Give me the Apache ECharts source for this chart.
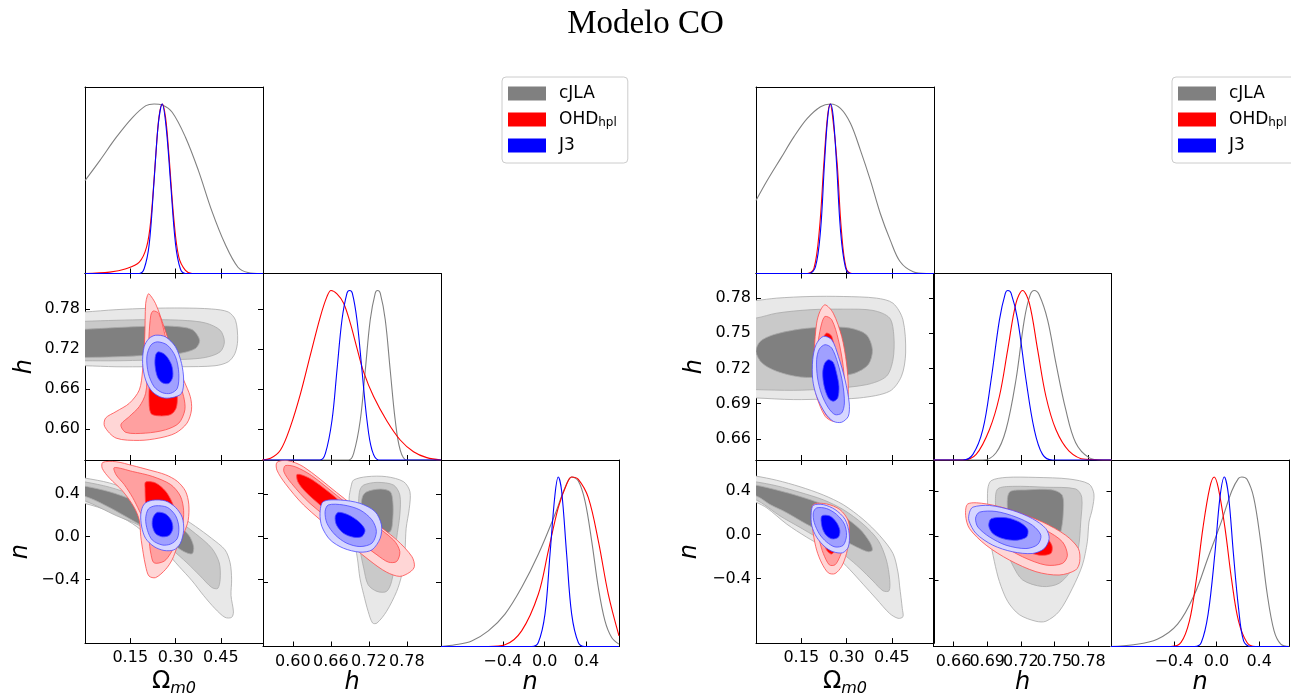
<!DOCTYPE html>
<html>
<head>
<meta charset="utf-8">
<script src="https://cdn.jsdelivr.net/npm/echarts@6/dist/echarts.min.js"></script>
<style>html,body{margin:0;padding:0;background:#fff}#chart{width:1291px;height:698px}</style>
</head>
<body>
<div id="chart"></div>
<script>
// ---------------- tick values ----------------
const OM_TICKS = [0.15, 0.30, 0.45];
const H_TICKS_L = [0.60, 0.66, 0.72, 0.78];
const H_TICKS_R = [0.66, 0.69, 0.72, 0.75, 0.78];
const N_TICKS = [-0.4, 0.0, 0.4];
const SETS = ['cJLA', 'OHD_hpl', 'J3'];

// ---------------- LEFT corner: 2D contours [outer light, mid, dark] ----------------
const L_OMH_cJLA = [
  [[-0.061,0.7745],[0,0.776],[0.103,0.7795],[0.212,0.7815],[0.322,0.782],[0.420,0.7805],[0.475,0.776],[0.499,0.7635],[0.506,0.7335],[0.497,0.7135],[0.475,0.701],[0.431,0.695],[0.322,0.6935],[0.212,0.6935],[0.103,0.6935],[0,0.695],[-0.061,0.695]],
  [[-0.061,0.761],[0,0.762],[0.103,0.7635],[0.212,0.7645],[0.322,0.7635],[0.399,0.7595],[0.448,0.7485],[0.462,0.731],[0.448,0.716],[0.399,0.7075],[0.322,0.7045],[0.212,0.7035],[0.103,0.7025],[0,0.7025],[-0.061,0.7025]],
  [[-0.061,0.7495],[0,0.75],[0.103,0.7525],[0.212,0.7545],[0.289,0.7545],[0.355,0.7495],[0.380,0.7335],[0.366,0.721],[0.311,0.7135],[0.212,0.711],[0.103,0.7085],[0,0.7075],[-0.061,0.7075]]
];
const L_OMH_OHD = [
  [[0.212,0.8035],[0.234,0.7885],[0.262,0.7535],[0.295,0.7085],[0.327,0.6735],[0.349,0.6485],[0.353,0.6285],[0.338,0.6085],[0.300,0.5935],[0.245,0.586],[0.180,0.5825],[0.103,0.586],[0.065,0.6035],[0.068,0.616],[0.103,0.626],[0.147,0.6385],[0.180,0.6585],[0.191,0.6885],[0.198,0.7385],[0.201,0.7885],[0.207,0.801]],
  [[0.226,0.7775],[0.245,0.7735],[0.267,0.7385],[0.300,0.6885],[0.327,0.6485],[0.331,0.6285],[0.311,0.6085],[0.267,0.5985],[0.201,0.5935],[0.136,0.5945],[0.119,0.606],[0.147,0.6185],[0.180,0.6335],[0.201,0.6535],[0.207,0.6885],[0.212,0.7385],[0.218,0.771]],
  [[0.229,0.7135],[0.267,0.7035],[0.295,0.6785],[0.306,0.6485],[0.302,0.631],[0.284,0.6215],[0.245,0.6195],[0.218,0.6235],[0.212,0.6485],[0.215,0.6785],[0.218,0.7035]]
];
const L_OMH_J3 = [
  [[0.234,0.741],[0.267,0.7385],[0.300,0.7235],[0.320,0.6985],[0.327,0.6735],[0.320,0.6535],[0.289,0.647],[0.256,0.647],[0.223,0.656],[0.201,0.6735],[0.191,0.6985],[0.196,0.7235],[0.212,0.736]],
  [[0.240,0.731],[0.273,0.726],[0.300,0.7085],[0.311,0.6835],[0.306,0.661],[0.284,0.6535],[0.256,0.6545],[0.229,0.6635],[0.210,0.6835],[0.205,0.7085],[0.218,0.726]],
  [[0.243,0.716],[0.267,0.711],[0.287,0.696],[0.291,0.6785],[0.278,0.6685],[0.256,0.6695],[0.240,0.6785],[0.232,0.696],[0.234,0.711]]
];
const L_OMN_cJLA = [
  [[-0.061,0.567],[0,0.542],[0.081,0.497],[0.158,0.421],[0.234,0.321],[0.300,0.215],[0.366,0.094],[0.420,-0.018],[0.464,-0.124],[0.481,-0.245],[0.486,-0.397],[0.484,-0.548],[0.492,-0.700],[0.486,-0.751],[0.464,-0.751],[0.431,-0.670],[0.393,-0.548],[0.355,-0.412],[0.311,-0.276],[0.267,-0.139],[0.212,-0.003],[0.158,0.118],[0.081,0.233],[0,0.306],[-0.061,0.330]],
  [[-0.061,0.527],[0,0.506],[0.081,0.458],[0.158,0.385],[0.234,0.276],[0.300,0.164],[0.366,0.027],[0.420,-0.109],[0.445,-0.245],[0.448,-0.397],[0.440,-0.482],[0.420,-0.473],[0.382,-0.367],[0.338,-0.245],[0.289,-0.124],[0.234,-0.003],[0.180,0.103],[0.103,0.194],[0,0.330],[-0.061,0.361]],
  [[-0.061,0.488],[0,0.467],[0.081,0.415],[0.158,0.339],[0.234,0.239],[0.300,0.124],[0.344,0.012],[0.360,-0.094],[0.355,-0.161],[0.327,-0.139],[0.289,-0.070],[0.234,0.027],[0.158,0.149],[0.081,0.270],[0,0.373],[-0.061,0.397]]
];
const L_OMN_OHD = [
  [[0.059,0.688],[0.103,0.694],[0.158,0.658],[0.212,0.618],[0.267,0.573],[0.306,0.512],[0.333,0.421],[0.344,0.300],[0.342,0.149],[0.327,0.027],[0.306,-0.094],[0.289,-0.215],[0.267,-0.306],[0.234,-0.382],[0.212,-0.367],[0.201,-0.276],[0.193,-0.155],[0.185,-0.003],[0.180,0.149],[0.163,0.270],[0.125,0.421],[0.081,0.542],[0.057,0.633]],
  [[0.097,0.639],[0.158,0.603],[0.223,0.558],[0.284,0.482],[0.316,0.376],[0.327,0.239],[0.322,0.088],[0.300,-0.064],[0.284,-0.155],[0.262,-0.230],[0.229,-0.245],[0.218,-0.155],[0.212,-0.033],[0.201,0.118],[0.180,0.239],[0.158,0.361],[0.130,0.482],[0.103,0.573]],
  [[0.201,0.506],[0.234,0.497],[0.267,0.421],[0.289,0.315],[0.300,0.209],[0.298,0.088],[0.278,-0.003],[0.245,-0.018],[0.218,0.027],[0.207,0.149],[0.201,0.300],[0.199,0.452]]
];
const L_OMN_J3 = [
  [[0.223,0.336],[0.267,0.330],[0.300,0.270],[0.322,0.179],[0.327,0.058],[0.316,-0.064],[0.295,-0.124],[0.262,-0.130],[0.229,-0.094],[0.201,-0.018],[0.188,0.088],[0.185,0.209],[0.196,0.300]],
  [[0.234,0.285],[0.273,0.270],[0.300,0.194],[0.311,0.088],[0.306,-0.018],[0.284,-0.070],[0.256,-0.079],[0.223,-0.033],[0.207,0.058],[0.201,0.164],[0.210,0.255]],
  [[0.240,0.224],[0.267,0.209],[0.286,0.149],[0.291,0.073],[0.280,0.012],[0.256,-0.003],[0.234,0.027],[0.223,0.103],[0.226,0.179]]
];
const L_HN_cJLA = [
  [[0.696,0.527],[0.717,0.558],[0.748,0.558],[0.775,0.512],[0.785,0.421],[0.784,0.270],[0.779,0.088],[0.777,-0.124],[0.772,-0.336],[0.764,-0.488],[0.748,-0.670],[0.733,-0.776],[0.726,-0.776],[0.719,-0.670],[0.712,-0.518],[0.706,-0.367],[0.702,-0.185],[0.696,-0.003],[0.691,0.149],[0.689,0.361],[0.692,0.467]],
  [[0.712,0.482],[0.733,0.506],[0.759,0.482],[0.769,0.391],[0.769,0.209],[0.764,-0.003],[0.762,-0.185],[0.756,-0.397],[0.748,-0.488],[0.733,-0.488],[0.719,-0.427],[0.712,-0.276],[0.706,-0.094],[0.704,0.118],[0.704,0.330],[0.706,0.436]],
  [[0.717,0.421],[0.738,0.445],[0.754,0.421],[0.758,0.330],[0.758,0.179],[0.754,0.058],[0.738,0.042],[0.722,0.058],[0.712,0.149],[0.708,0.270],[0.710,0.376]]
];
const L_HN_OHD = [
  [[0.575,0.688],[0.591,0.706],[0.617,0.648],[0.669,0.415],[0.722,0.173],[0.764,-0.018],[0.788,-0.170],[0.792,-0.261],[0.785,-0.312],[0.769,-0.351],[0.748,-0.312],[0.722,-0.209],[0.669,0.042],[0.617,0.300],[0.588,0.497],[0.575,0.618]],
  [[0.588,0.658],[0.604,0.648],[0.630,0.567],[0.675,0.361],[0.722,0.149],[0.759,-0.018],[0.769,-0.124],[0.764,-0.215],[0.751,-0.221],[0.733,-0.155],[0.680,0.073],[0.627,0.315],[0.598,0.497],[0.586,0.603]],
  [[0.607,0.579],[0.625,0.548],[0.648,0.458],[0.675,0.330],[0.696,0.194],[0.698,0.103],[0.688,0.088],[0.669,0.164],[0.643,0.300],[0.620,0.421],[0.608,0.512]]
];
const L_HN_J3 = [
  [[0.648,0.330],[0.675,0.345],[0.706,0.315],[0.730,0.239],[0.740,0.118],[0.738,-0.003],[0.725,-0.109],[0.706,-0.130],[0.680,-0.094],[0.659,-0.018],[0.646,0.103],[0.643,0.224]],
  [[0.656,0.300],[0.680,0.300],[0.706,0.255],[0.725,0.164],[0.732,0.058],[0.725,-0.048],[0.706,-0.079],[0.685,-0.048],[0.667,0.027],[0.654,0.133],[0.651,0.239]],
  [[0.672,0.233],[0.688,0.209],[0.704,0.149],[0.714,0.073],[0.709,0.012],[0.696,0.006],[0.680,0.042],[0.669,0.118],[0.667,0.194]]
];

// ---------------- LEFT corner: 1D marginals (normalised to peak) ----------------
const L_OM_cJLA = [[0,0.548],[0.049,0.666],[0.104,0.804],[0.158,0.921],[0.202,0.990],[0.229,1],[0.256,0.994],[0.289,0.951],[0.333,0.804],[0.376,0.607],[0.420,0.371],[0.464,0.175],[0.507,0.037],[0.540,0.006],[0.584,0],[0.59,0]];
const L_OM_OHD = [[0,0],[0.082,0.008],[0.136,0.028],[0.180,0.067],[0.204,0.155],[0.218,0.312],[0.235,0.705],[0.245,0.921],[0.256,1],[0.267,0.921],[0.278,0.705],[0.295,0.312],[0.311,0.096],[0.333,0.018],[0.355,0],[0.59,0]];
const L_OM_J3 = [[0,0],[0.180,0],[0.196,0.028],[0.213,0.175],[0.229,0.548],[0.243,0.882],[0.256,1],[0.269,0.862],[0.284,0.528],[0.300,0.175],[0.316,0.028],[0.333,0],[0.59,0]];
const L_H_cJLA = [[0.553,0],[0.6882,0],[0.6961,0.039],[0.7066,0.236],[0.7145,0.531],[0.7223,0.827],[0.7302,0.984],[0.7339,1],[0.7381,0.984],[0.746,0.827],[0.7538,0.531],[0.7617,0.236],[0.7696,0.059],[0.780,0],[0.834,0]];
const L_H_OHD = [[0.549,0],[0.5648,0.010],[0.5806,0.059],[0.5963,0.197],[0.6121,0.390],[0.6278,0.620],[0.6436,0.846],[0.6541,0.965],[0.6604,1],[0.6698,0.980],[0.6803,0.925],[0.6908,0.807],[0.7013,0.660],[0.7118,0.520],[0.7276,0.374],[0.7486,0.230],[0.7696,0.118],[0.7906,0.049],[0.8116,0.014],[0.834,0]];
const L_H_J3 = [[0.553,0],[0.6431,0],[0.6515,0.039],[0.662,0.236],[0.6698,0.531],[0.6777,0.827],[0.6856,0.984],[0.6898,1],[0.694,0.984],[0.7013,0.827],[0.7092,0.531],[0.7171,0.236],[0.725,0.059],[0.7355,0],[0.834,0]];
const L_N_cJLA = [[-0.99,0],[-0.984,0.001],[-0.856,0.010],[-0.697,0.033],[-0.538,0.092],[-0.379,0.191],[-0.220,0.348],[-0.0605,0.544],[0.099,0.780],[0.194,0.937],[0.258,1],[0.3215,0.976],[0.385,0.859],[0.449,0.623],[0.5125,0.348],[0.576,0.151],[0.640,0.053],[0.710,0.014]];
const L_N_OHD = [[-0.99,0],[-0.538,0],[-0.379,0.010],[-0.220,0.092],[-0.0605,0.308],[0.035,0.564],[0.130,0.819],[0.210,0.957],[0.258,1],[0.3215,0.986],[0.417,0.878],[0.5125,0.623],[0.608,0.308],[0.710,0.063]];
const L_N_J3 = [[-0.99,0],[-0.124,0],[-0.0605,0.024],[0.003,0.191],[0.051,0.544],[0.099,0.898],[0.1305,1],[0.162,0.917],[0.210,0.544],[0.258,0.191],[0.3215,0.024],[0.385,0],[0.71,0]];

// ---------------- RIGHT corner: 2D contours ----------------
const R_OMH_cJLA = [
  [[-0.063,0.7772],[0,0.778],[0.069,0.780],[0.179,0.7814],[0.289,0.7814],[0.399,0.780],[0.454,0.7757],[0.487,0.7616],[0.496,0.7332],[0.482,0.7133],[0.443,0.7006],[0.344,0.6949],[0.234,0.694],[0.124,0.6935],[0,0.6949],[-0.063,0.6955]],
  [[-0.063,0.7621],[0,0.763],[0.069,0.7672],[0.179,0.7701],[0.289,0.7706],[0.388,0.7695],[0.443,0.763],[0.457,0.7474],[0.454,0.7275],[0.432,0.7133],[0.366,0.7062],[0.234,0.7026],[0.124,0.7014],[0,0.702],[-0.063,0.7026]],
  [[0,0.7346],[0.014,0.7431],[0.058,0.7488],[0.146,0.7536],[0.234,0.7553],[0.311,0.7545],[0.366,0.7488],[0.386,0.736],[0.372,0.7233],[0.322,0.7156],[0.234,0.7128],[0.146,0.7128],[0.069,0.7176],[0.020,0.7247]]
];
const R_OMH_OHD = [
  [[0.229,0.7743],[0.256,0.7672],[0.284,0.7474],[0.300,0.7247],[0.306,0.702],[0.300,0.685],[0.284,0.6764],[0.256,0.675],[0.229,0.6793],[0.201,0.6963],[0.190,0.7133],[0.193,0.736],[0.201,0.7587],[0.212,0.7687]],
  [[0.229,0.7644],[0.251,0.7616],[0.273,0.7445],[0.289,0.7218],[0.293,0.702],[0.284,0.685],[0.262,0.677],[0.240,0.6779],[0.218,0.6878],[0.201,0.7048],[0.199,0.7247],[0.207,0.7445],[0.218,0.7587]],
  [[0.234,0.7502],[0.251,0.7474],[0.262,0.7332],[0.273,0.7133],[0.273,0.6991],[0.262,0.6921],[0.240,0.6926],[0.223,0.702],[0.216,0.719],[0.218,0.736],[0.223,0.746]]
];
const R_OMH_J3 = [
  [[0.223,0.7474],[0.251,0.7445],[0.273,0.7304],[0.295,0.7105],[0.309,0.6906],[0.306,0.6793],[0.284,0.6742],[0.256,0.675],[0.229,0.6821],[0.201,0.6963],[0.188,0.7105],[0.188,0.7275],[0.199,0.7403]],
  [[0.229,0.7403],[0.251,0.7374],[0.271,0.7247],[0.287,0.7077],[0.293,0.6906],[0.284,0.6821],[0.262,0.6807],[0.240,0.6864],[0.218,0.6977],[0.204,0.7119],[0.201,0.7275],[0.210,0.7366]],
  [[0.240,0.7275],[0.256,0.7252],[0.267,0.7162],[0.275,0.7048],[0.271,0.6949],[0.256,0.6921],[0.240,0.6949],[0.226,0.7048],[0.221,0.7162],[0.227,0.7241]]
];
const R_OMN_cJLA = [
  [[-0.063,0.554],[0,0.533],[0.069,0.495],[0.146,0.436],[0.223,0.361],[0.289,0.273],[0.355,0.139],[0.410,-0.009],[0.454,-0.172],[0.471,-0.350],[0.476,-0.468],[0.485,-0.676],[0.487,-0.750],[0.471,-0.764],[0.443,-0.720],[0.399,-0.587],[0.355,-0.453],[0.311,-0.320],[0.267,-0.201],[0.223,-0.113],[0.168,-0.024],[0.102,0.095],[0.036,0.243],[0,0.293],[-0.063,0.332]],
  [[-0.063,0.495],[0,0.480],[0.069,0.444],[0.146,0.385],[0.223,0.317],[0.289,0.228],[0.355,0.095],[0.405,-0.053],[0.432,-0.231],[0.443,-0.409],[0.441,-0.513],[0.421,-0.513],[0.388,-0.424],[0.344,-0.305],[0.300,-0.201],[0.256,-0.113],[0.201,-0.024],[0.146,0.065],[0.080,0.169],[0,0.317],[-0.063,0.347]],
  [[-0.063,0.465],[0,0.450],[0.069,0.406],[0.146,0.347],[0.223,0.273],[0.289,0.169],[0.344,0.050],[0.377,-0.068],[0.386,-0.142],[0.372,-0.157],[0.333,-0.113],[0.289,-0.053],[0.234,0.006],[0.168,0.095],[0.102,0.199],[0.047,0.273],[0,0.353],[-0.063,0.376]]
];
const R_OMN_OHD = [
  [[0.190,0.273],[0.234,0.279],[0.278,0.228],[0.306,0.124],[0.309,-0.024],[0.300,-0.172],[0.284,-0.290],[0.262,-0.356],[0.240,-0.350],[0.218,-0.261],[0.201,-0.142],[0.190,0.006],[0.185,0.154]],
  [[0.201,0.228],[0.240,0.228],[0.273,0.169],[0.292,0.065],[0.292,-0.083],[0.278,-0.201],[0.262,-0.276],[0.243,-0.276],[0.223,-0.172],[0.210,-0.053],[0.199,0.080],[0.196,0.169]],
  [[0.234,0.124],[0.262,0.095],[0.273,0.006],[0.267,-0.113],[0.251,-0.178],[0.234,-0.142],[0.225,-0.053],[0.227,0.050]]
];
const R_OMN_J3 = [
  [[0.190,0.267],[0.223,0.273],[0.262,0.228],[0.295,0.139],[0.309,0.006],[0.306,-0.113],[0.287,-0.166],[0.256,-0.157],[0.229,-0.113],[0.201,-0.024],[0.185,0.080],[0.183,0.199]],
  [[0.201,0.243],[0.234,0.237],[0.267,0.184],[0.293,0.095],[0.300,-0.009],[0.289,-0.098],[0.262,-0.113],[0.234,-0.068],[0.210,0.006],[0.193,0.110],[0.190,0.199]],
  [[0.218,0.169],[0.245,0.169],[0.267,0.110],[0.278,0.036],[0.273,-0.024],[0.251,-0.039],[0.229,0.006],[0.218,0.080]]
];
const R_HN_cJLA = [
  [[0.6935,0.495],[0.7068,0.524],[0.7335,0.524],[0.7631,0.510],[0.7809,0.465],[0.7853,0.376],[0.7839,0.243],[0.7809,0.124],[0.7794,-0.053],[0.775,-0.261],[0.7661,-0.468],[0.7542,-0.676],[0.7424,-0.764],[0.7335,-0.764],[0.7187,-0.705],[0.7083,-0.587],[0.7009,-0.409],[0.6964,-0.231],[0.692,0.006],[0.6905,0.243],[0.6905,0.421]],
  [[0.6994,0.421],[0.7127,0.444],[0.7424,0.436],[0.769,0.421],[0.7744,0.347],[0.7735,0.124],[0.7714,-0.113],[0.7661,-0.290],[0.7542,-0.424],[0.7394,-0.453],[0.7216,-0.394],[0.7127,-0.261],[0.7053,-0.083],[0.6994,0.124],[0.6973,0.302]],
  [[0.7098,0.391],[0.7246,0.412],[0.7483,0.412],[0.7572,0.361],[0.7578,0.184],[0.7557,0.036],[0.7513,-0.083],[0.7439,-0.127],[0.7335,-0.113],[0.7216,-0.053],[0.7127,0.065],[0.7083,0.213]]
];
const R_HN_OHD = [
  [[0.6727,0.287],[0.689,0.287],[0.7127,0.228],[0.7394,0.124],[0.7601,0.006],[0.7714,-0.113],[0.7726,-0.231],[0.769,-0.305],[0.7542,-0.350],[0.7335,-0.320],[0.7098,-0.216],[0.689,-0.083],[0.6742,0.065],[0.6707,0.184]],
  [[0.6772,0.243],[0.695,0.228],[0.7187,0.154],[0.7424,0.050],[0.7572,-0.053],[0.7616,-0.172],[0.7572,-0.246],[0.7424,-0.261],[0.7216,-0.187],[0.7009,-0.068],[0.6831,0.065],[0.6757,0.169]],
  [[0.6979,0.169],[0.7187,0.124],[0.7394,0.021],[0.7477,-0.083],[0.7468,-0.157],[0.7364,-0.172],[0.7187,-0.113],[0.7009,0.006],[0.6935,0.095]]
];
const R_HN_J3 = [
  [[0.6772,0.258],[0.692,0.273],[0.7127,0.228],[0.7305,0.154],[0.7424,0.065],[0.7453,-0.024],[0.7409,-0.113],[0.7305,-0.157],[0.7127,-0.142],[0.695,-0.083],[0.6801,0.021],[0.6736,0.139],[0.6742,0.213]],
  [[0.6831,0.213],[0.6979,0.219],[0.7157,0.169],[0.7305,0.095],[0.7379,0.006],[0.735,-0.077],[0.7246,-0.113],[0.7068,-0.083],[0.692,-0.009],[0.6816,0.080],[0.6796,0.160]],
  [[0.6935,0.154],[0.7068,0.163],[0.7187,0.124],[0.7261,0.059],[0.7252,-0.009],[0.7157,-0.039],[0.7039,-0.024],[0.695,0.021],[0.6914,0.089]]
];

// ---------------- RIGHT corner: 1D marginals ----------------
const R_OM_cJLA = [[0,0.43],[0.038,0.551],[0.082,0.679],[0.126,0.807],[0.170,0.915],[0.214,0.984],[0.247,1],[0.280,0.974],[0.313,0.886],[0.346,0.728],[0.379,0.551],[0.412,0.354],[0.445,0.197],[0.478,0.069],[0.521,0.010],[0.565,0],[0.59,0]];
const R_OM_OHD = [[0,0],[0.170,0],[0.192,0.030],[0.210,0.256],[0.225,0.650],[0.237,0.925],[0.246,1],[0.254,0.925],[0.269,0.650],[0.283,0.256],[0.299,0.030],[0.318,0],[0.59,0]];
const R_OM_J3 = [[0,0],[0.175,0],[0.197,0.039],[0.214,0.256],[0.227,0.650],[0.238,0.925],[0.247,1],[0.256,0.925],[0.267,0.650],[0.280,0.256],[0.296,0.039],[0.313,0],[0.59,0]];
const R_H_cJLA = [[0.642,0],[0.6861,0],[0.6979,0.043],[0.7068,0.180],[0.7157,0.475],[0.7231,0.827],[0.7284,0.975],[0.732,1],[0.7364,0.975],[0.7439,0.827],[0.7513,0.573],[0.7601,0.298],[0.769,0.102],[0.7809,0.014],[0.7927,0],[0.801,0]];
const R_H_OHD = [[0.642,0],[0.6683,0],[0.6801,0.033],[0.692,0.180],[0.7009,0.376],[0.7083,0.651],[0.7157,0.925],[0.7216,1],[0.7276,0.925],[0.735,0.651],[0.7424,0.376],[0.7513,0.180],[0.7631,0.053],[0.7779,0.004],[0.801,0]];
const R_H_J3 = [[0.642,0],[0.6683,0],[0.6772,0.033],[0.6861,0.180],[0.6935,0.475],[0.7009,0.827],[0.7062,0.984],[0.7083,1],[0.7113,0.984],[0.7172,0.827],[0.7246,0.475],[0.7320,0.180],[0.7394,0.033],[0.7483,0],[0.801,0]];
const R_N_cJLA = [[-1.0,0],[-0.778,0.010],[-0.556,0.043],[-0.365,0.132],[-0.206,0.308],[-0.079,0.525],[0.048,0.741],[0.143,0.917],[0.206,0.992],[0.238,1],[0.286,0.986],[0.349,0.878],[0.413,0.623],[0.476,0.308],[0.540,0.092],[0.603,0.014],[0.683,0]];
const R_N_OHD = [[-0.99,0],[-0.429,0],[-0.333,0.024],[-0.254,0.151],[-0.191,0.387],[-0.127,0.701],[-0.0635,0.937],[-0.022,1],[0.016,0.937],[0.079,0.701],[0.143,0.387],[0.206,0.151],[0.286,0.024],[0.365,0],[0.68,0]];
const R_N_J3 = [[-0.99,0],[-0.206,0],[-0.143,0.024],[-0.079,0.191],[-0.016,0.544],[0.032,0.878],[0.073,1],[0.111,0.898],[0.159,0.544],[0.206,0.230],[0.254,0.033],[0.318,0],[0.68,0]];

// ---------------- styling / layout ----------------
const FILLS = { cJLA:['#e8e8e8','#c9c9c9','#808080'], OHD_hpl:['#ffd6d6','#ffa0a0','#ff0000'], J3:['#d6d6ff','#a0a0ff','#0000ff'] };
const EDGES = { cJLA:'#a9a9a9', OHD_hpl:'#ff4a4a', J3:'#4a4aff' };
const LINES = { cJLA:'#808080', OHD_hpl:'#ff0000', J3:'#0000ff' };
const FONT = 'DejaVu Sans';

const LAYOUT = [
  { left:[85, 263, 441], top:[87, 273.5, 460], w:178, h:186.5 },
  { left:[756, 933.5, 1111], top:[87, 273.5, 460], w:178, h:186.5 }
];
const OM_NAME = '{a|Ω}{b|m0}';
const VARS = [
  [ {min:0, max:0.59, ticks:OM_TICKS, dec:2, name:OM_NAME, gap:48},
    {min:0.553, max:0.834, ticks:H_TICKS_L, dec:2, name:'h', gap:48},
    {min:-0.99, max:0.71, ticks:N_TICKS, dec:1, name:'n', gap:52} ],
  [ {min:0, max:0.59, ticks:OM_TICKS, dec:2, name:OM_NAME, gap:48},
    {min:0.642, max:0.801, ticks:H_TICKS_R, dec:2, name:'h', gap:49},
    {min:-0.99, max:0.68, ticks:N_TICKS, dec:1, name:'n', gap:54} ]
];
const CELLS2D = [
  {c:0,i:1,j:0,d:{cJLA:L_OMH_cJLA,OHD_hpl:L_OMH_OHD,J3:L_OMH_J3}},
  {c:0,i:2,j:0,d:{cJLA:L_OMN_cJLA,OHD_hpl:L_OMN_OHD,J3:L_OMN_J3}},
  {c:0,i:2,j:1,d:{cJLA:L_HN_cJLA,OHD_hpl:L_HN_OHD,J3:L_HN_J3}},
  {c:1,i:1,j:0,d:{cJLA:R_OMH_cJLA,OHD_hpl:R_OMH_OHD,J3:R_OMH_J3}},
  {c:1,i:2,j:0,d:{cJLA:R_OMN_cJLA,OHD_hpl:R_OMN_OHD,J3:R_OMN_J3}},
  {c:1,i:2,j:1,d:{cJLA:R_HN_cJLA,OHD_hpl:R_HN_OHD,J3:R_HN_J3}}
];
const CELLS1D = [
  {c:0,i:0,d:{cJLA:L_OM_cJLA,OHD_hpl:L_OM_OHD,J3:L_OM_J3}},
  {c:0,i:1,d:{cJLA:L_H_cJLA,OHD_hpl:L_H_OHD,J3:L_H_J3}},
  {c:0,i:2,d:{cJLA:L_N_cJLA,OHD_hpl:L_N_OHD,J3:L_N_J3}},
  {c:1,i:0,d:{cJLA:R_OM_cJLA,OHD_hpl:R_OM_OHD,J3:R_OM_J3}},
  {c:1,i:1,d:{cJLA:R_H_cJLA,OHD_hpl:R_H_OHD,J3:R_H_J3}},
  {c:1,i:2,d:{cJLA:R_N_cJLA,OHD_hpl:R_N_OHD,J3:R_N_J3}}
];

const fmt = (v, dec) => { let s = Number(v).toFixed(dec); if (Math.abs(v) < 1e-9) s = (0).toFixed(dec); return s.replace('-', '\u2212'); };
const nameStyle = {
  fontFamily: FONT, fontSize: 24, fontStyle: 'italic', color: '#000',
  rich: {
    a: { fontFamily: FONT, fontSize: 24, fontStyle: 'normal', lineHeight: 30, color: '#000' },
    b: { fontFamily: FONT, fontSize: 16, fontStyle: 'italic', lineHeight: 16, padding: [14, 0, 0, 0], color: '#000' }
  }
};
function labelStyle(vals, dec, margin) {
  return { show: true, customValues: vals, interval: 0, margin: margin, formatter: (x) => fmt(x, dec),
    showMinLabel: true, showMaxLabel: true, hideOverlap: false,
    fontFamily: FONT, fontSize: 16, color: '#000' };
}
function valAxis(v, pos, g, ticks, labels, isX, labelVals) {
  const lab = labelStyle(labelVals || v.ticks, v.dec, isX ? 7 : 5);
  lab.show = labels;
  return {
    type: 'value', gridIndex: g, position: pos, min: v.min, max: v.max,
    axisLine: { show: true, onZero: false, lineStyle: { color: '#000', width: 1 } },
    axisTick: { show: ticks, inside: true, length: 5, customValues: v.ticks, lineStyle: { color: '#000', width: 1 } },
    axisLabel: lab,
    splitLine: { show: false },
    name: labels ? v.name : '', nameLocation: 'middle', nameGap: isX ? 16 : v.gap,
    nameTextStyle: nameStyle
  };
}
function plainY(pos, g) {
  return { type: 'value', gridIndex: g, position: pos, min: 0, max: 1.1,
    axisLine: { show: true, onZero: false, lineStyle: { color: '#000', width: 1 } },
    axisTick: { show: false }, axisLabel: { show: false }, splitLine: { show: false } };
}

const grids = [], xAxes = [], yAxes = [], extraX = [], gridOf = {};
LAYOUT.forEach((L, c) => {
  for (let i = 0; i < 3; i++) for (let j = 0; j <= i; j++) {
    const g = grids.length; gridOf[c + '_' + i + '_' + j] = g;
    grids.push({ left: L.left[j], top: L.top[i], width: L.w, height: L.h, show: false });
    const xv = VARS[c][j], diag = i === j;
    if (i === 2) {
      // alternate tick labels on two stacked axes so tightly packed labels are all kept
      const even = xv.ticks.filter((_, k) => k % 2 === 0), odd = xv.ticks.filter((_, k) => k % 2 === 1);
      xAxes.push(valAxis(xv, 'bottom', g, true, true, true, even));
      extraX.push({ type: 'value', gridIndex: g, position: 'bottom', min: xv.min, max: xv.max,
        axisLine: { show: false, onZero: false }, axisTick: { show: false }, splitLine: { show: false },
        axisLabel: labelStyle(odd, xv.dec, 7) });
    } else {
      xAxes.push(valAxis(xv, 'bottom', g, true, false, true));
    }
    xAxes.push(valAxis(xv, 'top', g, !diag, false, true));
    if (diag) { yAxes.push(plainY('left', g)); yAxes.push(plainY('right', g)); }
    else { const yv = VARS[c][i]; yAxes.push(valAxis(yv, 'left', g, true, j === 0, false)); yAxes.push(valAxis(yv, 'right', g, true, false, false)); }
  }
});
extraX.forEach(a => xAxes.push(a));

const series = [];
CELLS2D.forEach(cell => {
  const g = gridOf[cell.c + '_' + cell.i + '_' + cell.j];
  SETS.forEach(s => {
    cell.d[s].forEach((pts, lvl) => {
      const fill = FILLS[s][lvl], stroke = EDGES[s];
      series.push({
        type: 'custom', name: s, coordinateSystem: 'cartesian2d', xAxisIndex: 2 * g, yAxisIndex: 2 * g,
        clip: true, silent: true, animation: false, data: pts, encode: { x: 0, y: 1 },
        itemStyle: { color: LINES[s] },
        renderItem: (params, api) => {
          if (params.dataIndex !== 0) return null;
          return { type: 'polygon', shape: { points: pts.map(p => api.coord(p)), smooth: 0.3 },
            style: { fill: fill, stroke: stroke, lineWidth: 0.8 } };
        }
      });
    });
  });
});
CELLS1D.forEach(cell => {
  const g = gridOf[cell.c + '_' + cell.i + '_' + cell.i];
  SETS.forEach(s => {
    series.push({
      type: 'line', name: s, xAxisIndex: 2 * g, yAxisIndex: 2 * g, data: cell.d[s],
      showSymbol: false, smooth: 0.35, clip: true, silent: true, animation: false,
      lineStyle: { color: LINES[s], width: 1.1 }, itemStyle: { color: LINES[s] }
    });
  });
});

const legends = [502, 1172].map(left => ({
  left: left, top: 77, orient: 'vertical', selectedMode: false, icon: 'rect',
  itemWidth: 38, itemHeight: 14, itemGap: 8, padding: [8, 11, 9, 6],
  borderColor: '#cccccc', borderWidth: 1, borderRadius: 4, backgroundColor: '#ffffff',
  data: SETS.map(s => ({ name: s, icon: 'rect', itemStyle: { color: LINES[s], borderWidth: 0 } })),
  formatter: n => n === 'OHD_hpl' ? '{a|OHD}{b|hpl}' : '{a|' + n + '}',
  textStyle: { fontFamily: FONT, fontSize: 17, color: '#000',
    rich: { a: { fontFamily: FONT, fontSize: 17, lineHeight: 20, padding: [0, 0, 0, 8], color: '#000' },
            b: { fontFamily: FONT, fontSize: 12, lineHeight: 13, padding: [7, 0, 0, 0], color: '#000' } } }
}));

const chart = echarts.init(document.getElementById('chart'), null, { renderer: 'canvas' });
chart.setOption({
  backgroundColor: '#ffffff',
  animation: false,
  title: { text: 'Modelo CO', left: 'center', top: 3,
    textStyle: { fontFamily: 'Liberation Serif', fontSize: 33, fontWeight: 'normal', color: '#000' } },
  legend: legends,
  grid: grids, xAxis: xAxes, yAxis: yAxes, series: series
});
</script>
</body>
</html>
